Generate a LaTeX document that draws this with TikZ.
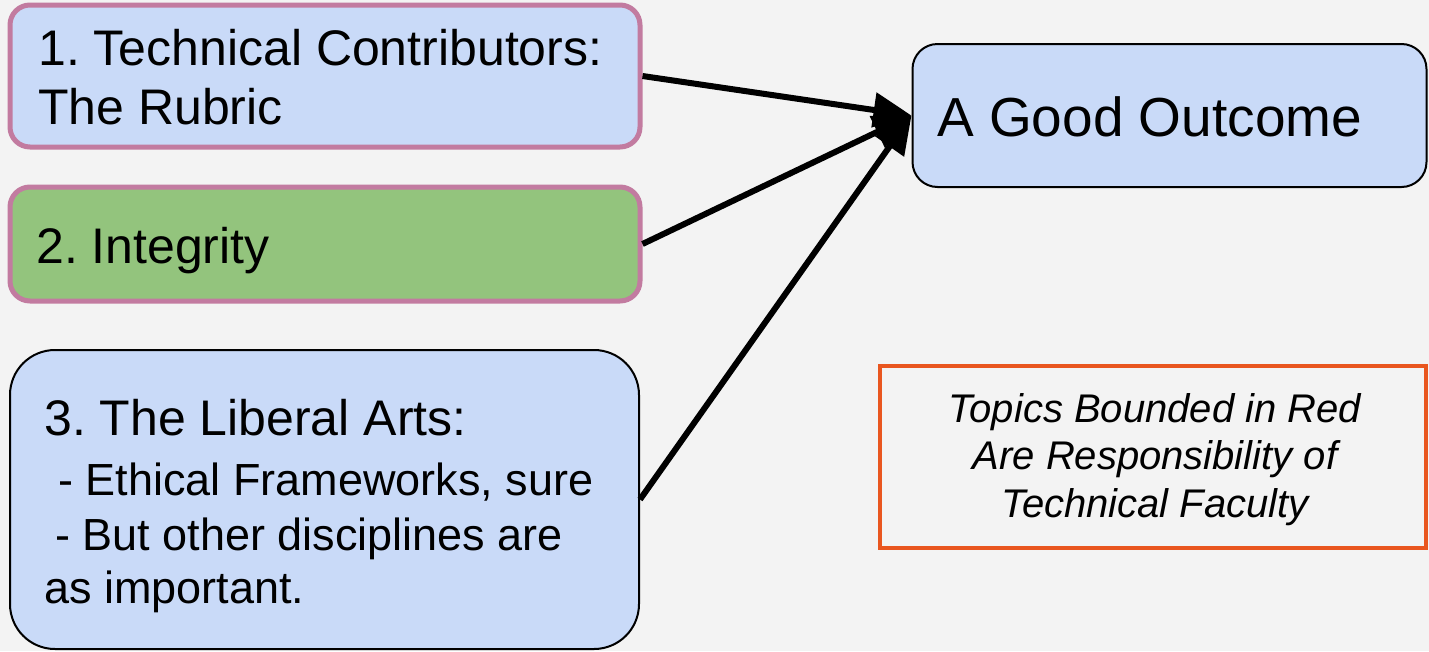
\documentclass[tikz,border=0pt]{standalone}
\usepackage{fontspec}
\setmainfont{Liberation Sans}
\usetikzlibrary{arrows.meta}
\frenchspacing
\definecolor{bgc}{HTML}{F3F3F3}
\definecolor{boxblue}{HTML}{C9DAF8}
\definecolor{boxgreen}{HTML}{93C47D}
\definecolor{pinkline}{HTML}{C27BA0}
\definecolor{redline}{HTML}{E9561F}
\tikzset{
  pinkbox/.style={draw=pinkline, line width=5pt, rounded corners=20pt, inner sep=0pt, minimum width=630pt},
  blackbox/.style={draw=black, line width=2pt, fill=boxblue, inner sep=0pt},
  txt/.style={anchor=base west, inner sep=0pt, text=black},
  redtxt/.style={anchor=base, inner sep=0pt, text=black, font=\fontsize{40}{48}\selectfont\itshape},
  bigfont/.style={font=\fontsize{50}{60}\selectfont},
  midfont/.style={font=\fontsize{45}{54}\selectfont},
  conn/.style={line width=6pt, -{Triangle[length=38pt,width=34pt]}}
}
\begin{document}
\begin{tikzpicture}[x=1pt,y=-1pt]
\useasboundingbox (0,0) rectangle (1429,651);
\fill[bgc] (0,0) rectangle (1429,651);

% boxes
\node[pinkbox, fill=boxblue, minimum height=142pt] (b1) at (325,76) {};
\node[pinkbox, fill=boxgreen, minimum height=114pt] (b2) at (325,244) {};
\node[blackbox, rounded corners=45pt, minimum width=629pt, minimum height=299pt] (b3) at (324.5,499.5) {};
\node[blackbox, rounded corners=25pt, minimum width=514pt, minimum height=143pt] (good) at (1169.5,115.5) {};
\node[draw=redline, line width=4.5pt, inner sep=0pt, minimum width=546pt, minimum height=182pt] (red) at (1153,457) {};

% texts
\node[txt, bigfont] (t1a) at (38,65) {1. Technical Contributors:};
\node[txt, bigfont] (t1b) at (38,124) {The Rubric};
\node[txt, bigfont] (t2) at (36,263) {2. Integrity};
\node[txt, bigfont] (t3a) at (44,435) {3. The Liberal Arts:};
\node[txt, midfont] (t3b) at (58,495) {- Ethical Frameworks, sure};
\node[txt, midfont] (t3c) at (55,550) {- But other disciplines are};
\node[txt, midfont] (t3d) at (44,603) {as important.};
\node[txt, font=\fontsize{55}{66}\selectfont] (tg) at (937,136) {A Good Outcome};
\node[redtxt] (r1) at (1155,422) {Topics Bounded in Red};
\node[redtxt] (r2) at (1155,469) {Are Responsibility of};
\node[redtxt] (r3) at (1155,517) {Technical Faculty};

% connectors
\draw[conn] (b1.east) -- (good.west);
\draw[conn] (b2.east) -- (good.west);
\draw[conn] (b3.east) -- (good.west);
\end{tikzpicture}
\end{document}
